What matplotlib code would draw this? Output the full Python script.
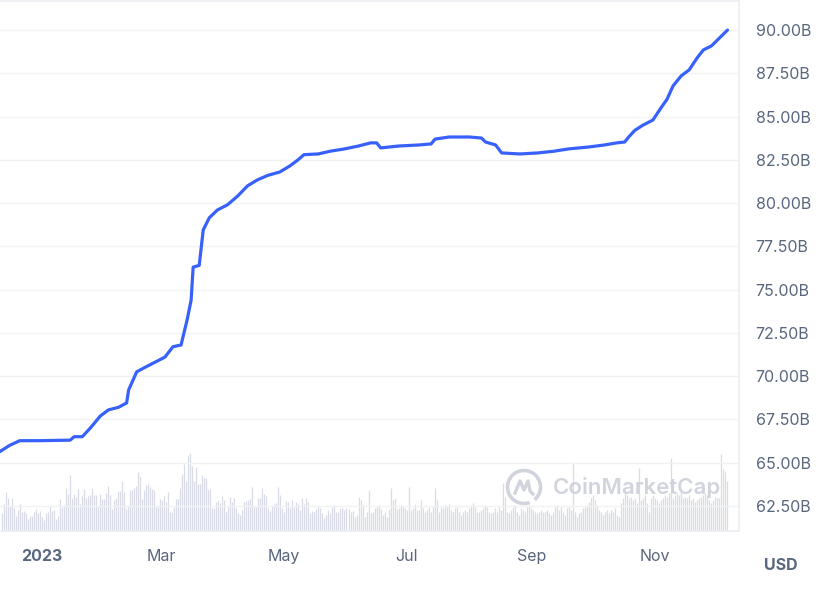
import numpy as np
import pandas as pd
import matplotlib
matplotlib.use("Agg")
import matplotlib.pyplot as plt
import matplotlib.dates as mdates
from matplotlib.patches import Arc
from matplotlib.transforms import IdentityTransform

plt.rcParams['font.family'] = ['Inter', 'DejaVu Sans']

# market cap line (billions USD)
line_dates = ["2022-12-11", "2022-12-16", "2022-12-21", "2022-12-31", "2023-01-15", "2023-01-17",
              "2023-01-21", "2023-01-25", "2023-01-30", "2023-02-03", "2023-02-08", "2023-02-12",
              "2023-02-13", "2023-02-17", "2023-02-21", "2023-02-26", "2023-03-03", "2023-03-07",
              "2023-03-11", "2023-03-14", "2023-03-16", "2023-03-17", "2023-03-20", "2023-03-22",
              "2023-03-25", "2023-03-29", "2023-04-03", "2023-04-08", "2023-04-13", "2023-04-18",
              "2023-04-23", "2023-04-29", "2023-05-04", "2023-05-08", "2023-05-11", "2023-05-18",
              "2023-05-24", "2023-05-31", "2023-06-07", "2023-06-13", "2023-06-16", "2023-06-18",
              "2023-06-27", "2023-07-07", "2023-07-13", "2023-07-15", "2023-07-22", "2023-08-01",
              "2023-08-07", "2023-08-09", "2023-08-14", "2023-08-17", "2023-08-26", "2023-09-04",
              "2023-09-12", "2023-09-19", "2023-09-29", "2023-10-07", "2023-10-13", "2023-10-17",
              "2023-10-19", "2023-10-22", "2023-10-26", "2023-10-31", "2023-11-04", "2023-11-07",
              "2023-11-10", "2023-11-14", "2023-11-18", "2023-11-22", "2023-11-25", "2023-11-29",
              "2023-12-03", "2023-12-07"]
line_values = [65.63, 66.0, 66.27, 66.27, 66.3, 66.5,
               66.5, 67.0, 67.7, 68.05, 68.2, 68.45,
               69.2, 70.25, 70.5, 70.8, 71.1, 71.7,
               71.8, 73.25, 74.4, 76.3, 76.4, 78.45,
               79.15, 79.6, 79.9, 80.4, 81.0, 81.35,
               81.6, 81.8, 82.15, 82.5, 82.8, 82.84,
               83.0, 83.13, 83.3, 83.48, 83.48, 83.19,
               83.3, 83.36, 83.42, 83.7, 83.82, 83.82,
               83.76, 83.53, 83.36, 82.9, 82.84, 82.9,
               83.0, 83.13, 83.24, 83.36, 83.48, 83.53,
               83.82, 84.2, 84.5, 84.8, 85.5, 86.0,
               86.77, 87.35, 87.7, 88.4, 88.85, 89.08,
               89.54, 90.0]

# relative volume bars, roughly one per day
vol_start = "2022-12-12"
vol_end = "2023-12-07"
vol_values = [18, 27, 39, 33, 25, 33, 23, 15, 21, 27,
              19, 20, 18, 12, 15, 15, 19, 22, 18, 20,
              14, 11, 18, 19, 25, 20, 21, 12, 15, 32,
              24, 26, 43, 37, 56, 33, 37, 34, 42, 27,
              35, 42, 33, 35, 36, 43, 36, 36, 24, 37,
              32, 32, 38, 45, 36, 22, 31, 33, 40, 40,
              50, 39, 22, 25, 41, 41, 43, 45, 59, 55,
              32, 41, 46, 47, 44, 42, 41, 24, 24, 32,
              31, 35, 29, 39, 19, 19, 24, 32, 32, 43,
              57, 67, 50, 76, 78,
              65, 50, 64, 47, 47, 56, 53, 53, 41, 42,
              23, 23, 29, 31, 28, 35, 31, 19, 24, 34,
              29, 33, 23, 18, 16, 21, 29, 30, 31, 32,
              44, 24, 24, 33, 33, 43, 37, 35, 23, 20,
              25, 27, 28, 44, 36, 23, 19, 30, 29, 23,
              31, 24, 29, 27, 21, 33, 27, 33, 29, 18,
              20, 19, 22, 24, 23, 18, 13, 16, 21, 18,
              24, 26, 19, 19, 22, 23, 21, 23, 22, 19,
              20, 14, 16, 34, 31, 26, 14, 19, 41, 18,
              19,
              23, 24, 26, 22, 16, 19, 14, 22, 43, 31,
              33, 22, 23, 26, 24, 23, 21, 44, 21, 23,
              27, 21, 21, 31, 23, 19, 21, 24, 19, 24,
              43, 31, 19, 24, 23, 26, 24, 27, 21, 19,
              23, 24, 19, 16, 19, 21, 19, 23, 26, 28,
              24, 19, 19, 21, 23, 26, 24, 19, 18, 19,
              23, 19, 24, 21, 48, 34, 19, 18, 21, 24,
              26, 19, 16, 23, 21, 19, 24, 26, 23, 21,
              19, 18, 19, 21, 19, 19, 21, 18, 16, 19,
              24,
              26, 21, 24, 19, 16, 23, 24, 21, 69, 19,
              14, 18, 19, 23, 24, 26, 29, 33, 36, 31,
              26, 21, 19, 16, 19, 21, 18, 21, 19, 23,
              16, 14, 28, 33, 38, 36, 33, 34, 31, 33,
              28, 63, 31, 33, 36, 28, 19, 33, 36, 33,
              31, 28, 31, 33, 36, 34, 38, 73, 33, 36,
              38, 36, 39, 33, 34, 33, 36, 31, 33, 29,
              31, 33, 34, 36, 38, 36, 31, 28, 31, 34,
              33, 33, 77, 62, 59, 50]

y_ticks = [62.5, 65.0, 67.5, 70.0, 72.5, 75.0, 77.5, 80.0, 82.5, 85.0, 87.5, 90.0]
x_ticks = ["2023-01-01", "2023-03-01", "2023-05-01", "2023-07-01", "2023-09-01", "2023-11-01"]
x_labels = ["2023", "Mar", "May", "Jul", "Sep", "Nov"]

text_col = "#58667e"
grid_col = "#f1f2f4"

fig = plt.figure(figsize=(8.32, 5.89), dpi=100)
ax = fig.add_axes([0, 58 / 589, 739 / 832, 530 / 589])
ax2 = ax.twinx()

# volume underneath
vdates = pd.date_range(vol_start, vol_end, periods=len(vol_values))
ax2.vlines(vdates, 0, vol_values, color="#d9dce6", lw=0.9)
ax2.set_ylim(0, 530)
ax2.set_yticks([])
for s in ax2.spines.values():
    s.set_visible(False)

ax.set_zorder(ax2.get_zorder() + 1)
ax.patch.set_visible(False)

ax.plot(pd.to_datetime(line_dates), line_values, color="#3861fb", lw=2.3,
        solid_joinstyle="round", solid_capstyle="round")

ax.set_ylim(61.05, 91.68)
ax.set_xlim(pd.Timestamp("2022-12-11 05:00"), pd.Timestamp("2023-12-12 17:00"))

ax.yaxis.tick_right()
ax.set_yticks(y_ticks)
ax.set_yticklabels([f"{v:.2f}B" for v in y_ticks])
ax.tick_params(axis="y", length=0, pad=12, labelsize=11.5, labelcolor=text_col)
ax.set_xticks(pd.to_datetime(x_ticks))
ax.set_xticklabels(x_labels)
ax.tick_params(axis="x", length=0, pad=13, labelsize=11.5, labelcolor=text_col)
ax.get_xticklabels()[0].set_fontweight("bold")
ax.grid(axis="y", color=grid_col, lw=1)

ax.spines["left"].set_visible(False)
for k in ["top", "right", "bottom"]:
    ax.spines[k].set_color("#eceef2")
    ax.spines[k].set_linewidth(1.2)

fig.text(781 / 832, 1 - 565 / 589, "USD", ha="center", va="center",
         fontsize=11.5, fontweight="bold", color=text_col)

# watermark
wm = "#c9cdd8"
fig.text(553 / 832, 1 - 488 / 589, "CoinMarketCap", ha="left", va="center",
         fontsize=16, fontweight="semibold", color=wm, alpha=0.85)
cx, cy = 524, 589 - 487
fig.add_artist(Arc((cx, cy), 33, 33, theta1=-50, theta2=290, transform=IdentityTransform(),
                   color=wm, lw=2.6, alpha=0.85))
fig.add_artist(plt.Line2D([cx - 9, cx - 4, cx, cx + 4, cx + 6, cx + 9],
                          [cy - 6, cy + 6, cy - 3, cy + 6, cy - 4, cy - 7],
                          transform=IdentityTransform(), color=wm, lw=2.4, alpha=0.85))

plt.savefig("out.png", dpi=100)
